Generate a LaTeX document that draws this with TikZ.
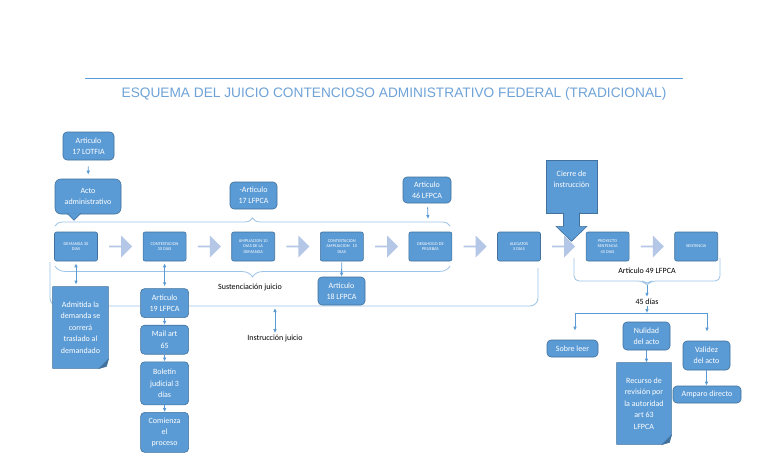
\documentclass[tikz,border=0pt]{standalone}
\usepackage{fontspec}
\setmainfont{Carlito}
\newfontfamily\titlefont{Liberation Sans}
\usetikzlibrary{arrows.meta,positioning,shapes.arrows,calc,decorations.pathreplacing}
\definecolor{boxblue}{HTML}{5B9BD5}
\definecolor{boxedge}{HTML}{41719C}
\definecolor{arrowblue}{HTML}{B4C7E7}
\definecolor{bracelight}{HTML}{9DC3E6}
\definecolor{titleblue}{HTML}{6FA3D8}
\newcommand{\tinyfont}{\fontsize{2.2}{2.7}\selectfont}
\newcommand{\boxfont}{\fontsize{4}{5.7}\selectfont}
\pgfdeclarelayer{background}
\pgfsetlayers{background,main}

\begin{document}
\begin{tikzpicture}[x=0.5pt, y=-0.5pt, node distance=22.5pt,
  stage/.style={draw=boxedge, fill=boxblue, rounded corners=1pt, text=white, font=\tinyfont, align=center, minimum width=21.5pt, minimum height=14.5pt, inner sep=0.5pt, line width=0.3pt},
  note/.style={draw=boxedge, fill=boxblue, rounded corners=2pt, text=white, font=\boxfont, align=center, inner sep=1pt, line width=0.3pt},
  docbox/.style={font=\boxfont, text=white, align=center, inner sep=1pt},
  blockarrow/.style={single arrow, fill=arrowblue, minimum width=11pt, minimum height=11.5pt, single arrow head extend=2.5pt, inner sep=0pt},
  link/.style={draw=boxblue, line width=0.4pt, -{Latex[length=2pt,width=1.8pt]}},
  biglink/.style={link, {Latex[length=2pt,width=1.8pt]}-{Latex[length=2pt,width=1.8pt]}},
  bracket/.style={draw=bracelight, line width=0.4pt},
  caption/.style={font=\boxfont, text=black, inner sep=0.5pt}]
\begin{pgfonlayer}{background}
\fill[white] (0,0) rectangle (768,466);
\end{pgfonlayer}
\useasboundingbox (0,0) rectangle (768,466);

% title
\draw[boxblue, line width=0.4pt] (85,78) -- (683,78);
\node[text=titleblue, font=\titlefont\fontsize{6.85}{8}\selectfont] (title) at (394,94) {ESQUEMA DEL JUICIO CONTENCIOSO ADMINISTRATIVO FEDERAL (TRADICIONAL)};

% main row
\node[stage] (d1) at (76,246.5) {DEMANDA 30\\DIAS};
\node[stage, right=of d1] (d2) {CONTESTACION\\30 DIAS};
\node[stage, right=of d2] (d3) {AMPLIACION 10\\DIAS DE LA\\DEMANDA};
\node[stage, right=of d3] (d4) {CONTESTACION\\AMPLIACION \ \ 10\\DIAS};
\node[stage, right=of d4] (d5) {DESAHOGO DE\\PRUEBAS};
\node[stage, right=of d5] (d6) {ALEGATOS\\5 DIAS};
\node[stage, right=of d6] (d7) {PROYECTO\\SENTENCIA\\45 DIAS};
\node[stage, right=of d7] (d8) {SENTENCIA};
\foreach \a/\b [count=\i] in {d1/d2,d2/d3,d3/d4,d4/d5,d5/d6,d6/d7,d7/d8}
  \node[blockarrow] (a\i) at ($(\a)!0.5!(\b)$) {};

% above the row
\node[note] (lotfia) at (88.5,146) [minimum width=25.5pt, minimum height=14pt] {Articulo\\17 LOTFIA};
\node[note, rounded corners=3pt] (acto) at (88,196.5) [minimum width=33pt, minimum height=17.5pt] {Acto\\administrativo};
\filldraw[fill=boxblue, draw=boxedge, line width=0.3pt] ($(acto.south)+(-21,-1)$) -- ($(acto.south)+(-14,6)$) -- ($(acto.south)+(-7,-1)$);
\draw[link, shorten <=3pt, shorten >=2pt] (lotfia) -- (acto);
\node[note] (art17) at (253.5,195.5) [minimum width=23.5pt, minimum height=13.5pt] {-Articulo\\17 LFPCA};
\node[note] (art46) at (427,190) [minimum width=24pt, minimum height=13pt] {Articulo\\46 LFPCA};
\coordinate (b46) at (428,219);
\draw[link, shorten <=2pt] (art46) -- (b46);

% braces round the row
\draw[bracket, decorate, decoration={brace, amplitude=4pt}] (55,226) -- (450,226);
\draw[bracket, decorate, decoration={brace, mirror, amplitude=5.5pt}] (55,266) -- (450,266);
\node[caption] (sust) at (250,287) {Sustenciación juicio};
\begin{pgfonlayer}{background}
\draw[bracket, rounded corners=4pt] (50,262) -- (50,306) -- (538,306) -- (538,268);
\end{pgfonlayer}
\coordinate (instr) at (275,306);
\node[caption] (instrtext) at (275,338) {Instrucción juicio};
\draw[biglink, shorten <=1pt] (instr) -- (instrtext);

% below demanda
\node[docbox] (admit) at (80.5,327.5) [minimum width=27.5pt, minimum height=40.5pt] {Admitida la\\demanda se\\correrá\\traslado al\\demandado};
\begin{pgfonlayer}{background}
\filldraw[fill=boxblue, draw=boxedge, line width=0.3pt] (admit.north west) -- (admit.north east) -- ($(admit.south east)+(0,-9)$) -- ($(admit.south east)+(-9,0)$) -- (admit.south west) -- cycle;
\filldraw[fill=boxedge, draw=boxedge, line width=0.3pt] ($(admit.south east)+(0,-9)$) -- ($(admit.south east)+(-9,0)$) -- ($(admit.south east)+(-2,-2)$) -- cycle;
\end{pgfonlayer}
\draw[biglink, shorten <=1pt, shorten >=1pt] (d1.south) -- (d1.south |- admit.north);

% below contestacion
\node[note, below=13.5pt of d2, minimum width=24pt, minimum height=14.5pt] (art19) {Articulo\\19 LFPCA};
\node[note, below=3.5pt of art19, minimum width=24pt, minimum height=14.5pt] (mail) {Mail art\\65};
\node[note, below=3.5pt of mail, minimum width=24pt, minimum height=21.5pt] (boletin) {Boletín\\judicial 3\\días};
\node[note, below=3.5pt of boletin, minimum width=24pt, minimum height=20pt] (comienza) {Comienza\\el\\proceso};
\draw[biglink, shorten <=1pt, shorten >=1pt] (d2) -- (art19);
\draw[link] (art19) -- (mail);
\draw[link] (mail) -- (boletin);
\draw[link] (boletin) -- (comienza);

% below contestacion ampliacion
\node[note] (art18) at (341.5,291) [minimum width=23.5pt, minimum height=14pt] {Articulo\\18 LFPCA};
\draw[link, shorten <=0.5pt] (d4) -- (art18);

% cierre de instruccion
\node[draw=boxedge, fill=boxblue, text=white, font=\boxfont, align=center, line width=0.3pt, minimum width=25.5pt, minimum height=26.5pt] (cierre) at (571.5,186.5) {Cierre de\\instrucción\\[1.5pt]};
\filldraw[fill=boxblue, draw=boxedge, line width=0.3pt] ($(cierre.south)+(-8,-0.5)$) -- ($(cierre.south)+(-8,13)$) -- ($(cierre.south)+(-15.5,13)$) -- ($(cierre.south)+(0,28)$) -- ($(cierre.south)+(15.5,13)$) -- ($(cierre.south)+(8,13)$) -- ($(cierre.south)+(8,-0.5)$);

% right part
\draw[bracket, rounded corners=2.5pt] (574,258) -- (574,281) -- (643,281) -- (647,285) -- (651,281) -- (720,281) -- (720,258);
\coordinate (b49) at (647,285);
\node[caption] (art49) at (647,271) {Articulo 49 LFPCA};
\node[caption] (dias) at (647,302) {45 días};
\draw[link, shorten >=0.5pt] (b49) -- (dias);
\coordinate (fork) at (647,313);
\coordinate (forkL) at (575,313);
\coordinate (forkR) at (707,313);
\draw[link] (dias) -- (fork);
\draw[draw=boxblue, line width=0.4pt] (forkL) -- (forkR);
\node[note] (sobre) at (572.5,348.5) [minimum width=25.5pt, minimum height=8.5pt] {Sobre leer};
\node[note] (nulidad) at (646.5,336) [minimum width=23.5pt, minimum height=14pt] {Nulidad\\del acto};
\node[note] (validez) at (706.5,355.5) [minimum width=23.5pt, minimum height=14.5pt] {Validez\\del acto};
\node[note] (amparo) at (707,394.5) [minimum width=34pt, minimum height=8.5pt] {Amparo directo};
\node[docbox] (recurso) at (644,403.5) [minimum width=27pt, minimum height=40.5pt] {Recurso de\\revisión por\\la autoridad\\art 63\\LFPCA};
\begin{pgfonlayer}{background}
\filldraw[fill=boxblue, draw=boxedge, line width=0.3pt] (recurso.north west) -- (recurso.north east) -- ($(recurso.south east)+(0,-9)$) -- ($(recurso.south east)+(-9,0)$) -- (recurso.south west) -- cycle;
\filldraw[fill=boxedge, draw=boxedge, line width=0.3pt] ($(recurso.south east)+(0,-9)$) -- ($(recurso.south east)+(-9,0)$) -- ($(recurso.south east)+(-2,-2)$) -- cycle;
\end{pgfonlayer}
\draw[link, shorten >=4.5pt] (forkL) -- (forkL |- sobre.north);
\draw[link, shorten >=4.5pt] (forkR) -- (forkR |- validez.north);
\draw[link] (nulidad.south) -- (nulidad.south |- recurso.north);
\draw[link] (validez.south) -- (validez.south |- amparo.north);
\end{tikzpicture}
\end{document}
